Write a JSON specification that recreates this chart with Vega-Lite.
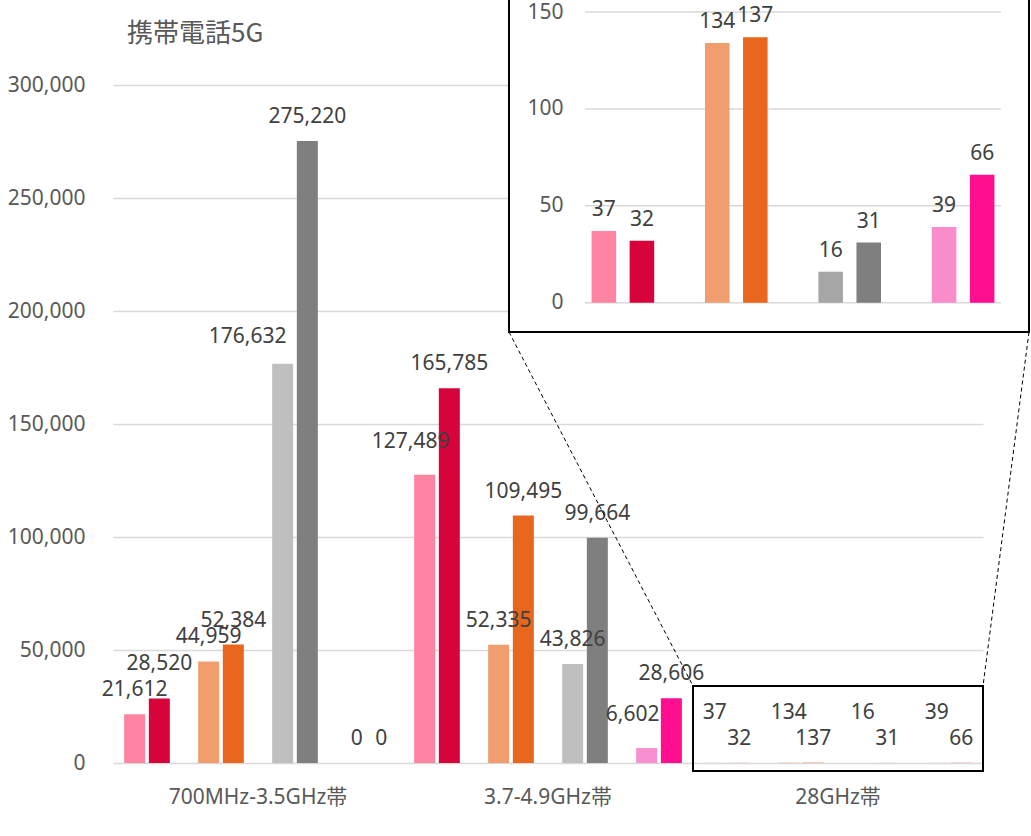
{
  "$schema": "https://vega.github.io/schema/vega-lite/v6.json",
  "autosize": "none",
  "width": 870,
  "height": 678,
  "padding": {"left": 113, "top": 85, "right": 48, "bottom": 73},
  "background": "white",
  "config": {
    "view": {"stroke": null},
    "font": "Noto Sans, Noto Sans CJK JP",
    "text": {"font": "Noto Sans, Noto Sans CJK JP"},
    "axis": {"labelFont": "Noto Sans, Noto Sans CJK JP"}
  },
  "title": {
    "text": "携帯電話5G",
    "anchor": "start",
    "frame": "group",
    "dx": 14,
    "offset": -53,
    "font": "Noto Sans CJK JP",
    "fontSize": 26,
    "fontWeight": "normal",
    "color": "#595959"
  },
  "datasets": {
    "d": [
      {"band": "700MHz-3.5GHz帯", "carrier": "ドコモ", "period": "前回", "series": "ドコモ・前回", "value": 21612},
      {"band": "700MHz-3.5GHz帯", "carrier": "ドコモ", "period": "今回", "series": "ドコモ・今回", "value": 28520},
      {"band": "700MHz-3.5GHz帯", "carrier": "KDDI", "period": "前回", "series": "KDDI・前回", "value": 44959},
      {"band": "700MHz-3.5GHz帯", "carrier": "KDDI", "period": "今回", "series": "KDDI・今回", "value": 52384},
      {"band": "700MHz-3.5GHz帯", "carrier": "ソフトバンク", "period": "前回", "series": "ソフトバンク・前回", "value": 176632},
      {"band": "700MHz-3.5GHz帯", "carrier": "ソフトバンク", "period": "今回", "series": "ソフトバンク・今回", "value": 275220},
      {"band": "700MHz-3.5GHz帯", "carrier": "楽天", "period": "前回", "series": "楽天・前回", "value": 0},
      {"band": "700MHz-3.5GHz帯", "carrier": "楽天", "period": "今回", "series": "楽天・今回", "value": 0},
      {"band": "3.7-4.9GHz帯", "carrier": "ドコモ", "period": "前回", "series": "ドコモ・前回", "value": 127489},
      {"band": "3.7-4.9GHz帯", "carrier": "ドコモ", "period": "今回", "series": "ドコモ・今回", "value": 165785},
      {"band": "3.7-4.9GHz帯", "carrier": "KDDI", "period": "前回", "series": "KDDI・前回", "value": 52335},
      {"band": "3.7-4.9GHz帯", "carrier": "KDDI", "period": "今回", "series": "KDDI・今回", "value": 109495},
      {"band": "3.7-4.9GHz帯", "carrier": "ソフトバンク", "period": "前回", "series": "ソフトバンク・前回", "value": 43826},
      {"band": "3.7-4.9GHz帯", "carrier": "ソフトバンク", "period": "今回", "series": "ソフトバンク・今回", "value": 99664},
      {"band": "3.7-4.9GHz帯", "carrier": "楽天", "period": "前回", "series": "楽天・前回", "value": 6602},
      {"band": "3.7-4.9GHz帯", "carrier": "楽天", "period": "今回", "series": "楽天・今回", "value": 28606},
      {"band": "28GHz帯", "carrier": "ドコモ", "period": "前回", "series": "ドコモ・前回", "value": 37},
      {"band": "28GHz帯", "carrier": "ドコモ", "period": "今回", "series": "ドコモ・今回", "value": 32},
      {"band": "28GHz帯", "carrier": "KDDI", "period": "前回", "series": "KDDI・前回", "value": 134},
      {"band": "28GHz帯", "carrier": "KDDI", "period": "今回", "series": "KDDI・今回", "value": 137},
      {"band": "28GHz帯", "carrier": "ソフトバンク", "period": "前回", "series": "ソフトバンク・前回", "value": 16},
      {"band": "28GHz帯", "carrier": "ソフトバンク", "period": "今回", "series": "ソフトバンク・今回", "value": 31},
      {"band": "28GHz帯", "carrier": "楽天", "period": "前回", "series": "楽天・前回", "value": 39},
      {"band": "28GHz帯", "carrier": "楽天", "period": "今回", "series": "楽天・今回", "value": 66}
    ],
    "ticks": [{"t": 0}, {"t": 50}, {"t": 100}, {"t": 150}]
  },
  "layer": [
    {
      "data": {"name": "d"},
      "encoding": {
        "x": {
          "field": "band", "type": "nominal", "sort": null,
          "scale": {"domain": ["700MHz-3.5GHz帯", "3.7-4.9GHz帯", "28GHz帯"], "paddingInner": 0, "paddingOuter": 0},
          "axis": {"title": null, "labelAngle": 0, "labelFontSize": 21, "labelColor": "#595959", "labelPadding": 23, "ticks": false, "domain": false, "grid": false}
        },
        "xOffset": {
          "field": "series", "type": "nominal",
          "scale": {"domain": ["ドコモ・前回", "ドコモ・今回", "_a", "KDDI・前回", "KDDI・今回", "_b", "ソフトバンク・前回", "ソフトバンク・今回", "_c", "楽天・前回", "楽天・今回"], "paddingInner": 0.149, "paddingOuter": 0.452}
        },
        "y": {
          "field": "value", "type": "quantitative",
          "scale": {"domain": [0, 300000], "nice": false},
          "axis": {"title": null, "values": [0, 50000, 100000, 150000, 200000, 250000, 300000], "labelExpr": "format(datum.value, ',')", "labelFontSize": 21, "labelColor": "#595959", "labelPadding": 28, "ticks": false, "domain": false, "grid": true, "gridColor": "#D9D9D9", "gridWidth": 1.5}
        }
      },
      "layer": [
        {
          "mark": {"type": "bar"},
          "encoding": {
            "color": {
              "field": "series", "type": "nominal", "legend": null,
              "scale": {
                "domain": ["ドコモ・前回", "ドコモ・今回", "KDDI・前回", "KDDI・今回", "ソフトバンク・前回", "ソフトバンク・今回", "楽天・前回", "楽天・今回"],
                "range": ["#FF84A2", "#D6043A", "#F19E6E", "#E9661E", "#BFBFBF", "#7F7F7F", "#F98ED0", "#FF0F8F"]
              }
            }
          }
        },
        {
          "transform": [{"filter": "!((datum.band === '28GHz帯' && datum.period === '前回') || (datum.band === '700MHz-3.5GHz帯' && (datum.series === 'ドコモ・今回' || datum.series === 'ソフトバンク・前回')) || (datum.band === '3.7-4.9GHz帯' && (datum.series === 'ドコモ・前回' || datum.series === '楽天・前回')))"}],
          "mark": {"type": "text", "baseline": "middle", "dy": -24, "fontSize": 21, "color": "#404040"},
          "encoding": {"text": {"field": "value", "type": "quantitative", "format": ","}}
        },
        {
          "transform": [{"filter": "datum.band === '28GHz帯' && datum.period === '前回'"}],
          "mark": {"type": "text", "baseline": "middle", "dy": -50, "fontSize": 21, "color": "#404040"},
          "encoding": {"text": {"field": "value", "type": "quantitative", "format": ","}}
        },
        {
          "transform": [{"filter": "datum.band === '700MHz-3.5GHz帯' && datum.series === 'ドコモ・今回'"}],
          "mark": {"type": "text", "baseline": "middle", "dy": -35, "fontSize": 21, "color": "#404040"},
          "encoding": {"text": {"field": "value", "type": "quantitative", "format": ","}}
        },
        {
          "transform": [{"filter": "datum.band === '700MHz-3.5GHz帯' && datum.series === 'ソフトバンク・前回'"}],
          "mark": {"type": "text", "baseline": "middle", "dx": -35, "dy": -27, "fontSize": 21, "color": "#404040"},
          "encoding": {"text": {"field": "value", "type": "quantitative", "format": ","}}
        },
        {
          "transform": [{"filter": "datum.band === '3.7-4.9GHz帯' && (datum.series === 'ドコモ・前回' || datum.series === '楽天・前回')"}],
          "mark": {"type": "text", "baseline": "middle", "dx": -14, "dy": -33, "fontSize": 21, "color": "#404040"},
          "encoding": {"text": {"field": "value", "type": "quantitative", "format": ","}}
        }
      ]
    },
    {
      "data": {"values": [{}]},
      "layer": [
        {
          "mark": {"type": "rect", "fillOpacity": 0, "stroke": "#000000", "strokeWidth": 2},
          "encoding": {
            "x": {"datum": 2, "type": "quantitative", "scale": {"domain": [0, 3], "nice": false, "zero": false}, "axis": null},
            "x2": {"datum": 3},
            "y": {"datum": 34071, "type": "quantitative", "scale": {"domain": [0, 300000], "nice": false}, "axis": null},
            "y2": {"datum": -3540}
          }
        },
        {
          "mark": {"type": "rect", "fill": "#FFFFFF", "stroke": "#000000", "strokeWidth": 2},
          "encoding": {
            "x": {"datum": 1.3655, "type": "quantitative", "scale": {"domain": [0, 3], "nice": false, "zero": false}, "axis": null},
            "x2": {"datum": 3.1586},
            "y": {"datum": 190708, "type": "quantitative", "scale": {"domain": [0, 300000], "nice": false}, "axis": null},
            "y2": {"datum": 340000}
          }
        },
        {
          "mark": {"type": "rule", "stroke": "#000000", "strokeWidth": 1, "strokeDash": [4, 3]},
          "encoding": {
            "x": {"datum": 1.3655, "type": "quantitative", "scale": {"domain": [0, 3], "nice": false, "zero": false}, "axis": null},
            "x2": {"datum": 2},
            "y": {"datum": 190708, "type": "quantitative", "scale": {"domain": [0, 300000], "nice": false}, "axis": null},
            "y2": {"datum": 34071}
          }
        },
        {
          "mark": {"type": "rule", "stroke": "#000000", "strokeWidth": 1, "strokeDash": [4, 3]},
          "encoding": {
            "x": {"datum": 3.1586, "type": "quantitative", "scale": {"domain": [0, 3], "nice": false, "zero": false}, "axis": null},
            "x2": {"datum": 3},
            "y": {"datum": 190708, "type": "quantitative", "scale": {"domain": [0, 300000], "nice": false}, "axis": null},
            "y2": {"datum": 34071}
          }
        }
      ]
    },
    {
      "data": {"name": "ticks"},
      "mark": {"type": "rule", "stroke": "#D9D9D9", "strokeWidth": 1.5},
      "encoding": {
        "x": {"datum": 0, "type": "quantitative", "scale": {"domain": [0, 1], "range": [472, 888], "nice": false, "zero": false}, "axis": null},
        "x2": {"datum": 1},
        "y": {
          "field": "t", "type": "quantitative",
          "scale": {"domain": [0, 150], "range": [217.7, -73], "nice": false},
          "axis": {"orient": "left", "offset": -450, "title": null, "values": [0, 50, 100, 150], "labelFontSize": 21, "labelColor": "#595959", "labelPadding": 0, "ticks": false, "domain": false, "grid": false, "zindex": 1}
        }
      }
    },
    {
      "data": {"name": "d"},
      "transform": [{"filter": "datum.band === '28GHz帯'"}],
      "encoding": {
        "x": {
          "field": "carrier", "type": "nominal", "sort": null,
          "scale": {"domain": ["ドコモ", "KDDI", "ソフトバンク", "楽天"], "range": [472, 888], "paddingInner": 0.448, "paddingOuter": 0.058},
          "axis": null
        },
        "xOffset": {
          "field": "period", "type": "nominal",
          "scale": {"domain": ["前回", "今回"], "paddingInner": 0.355, "paddingOuter": 0}
        },
        "y": {
          "field": "value", "type": "quantitative",
          "scale": {"domain": [0, 150], "range": [217.7, -73], "nice": false},
          "axis": null
        }
      },
      "layer": [
        {
          "mark": {"type": "bar"},
          "encoding": {
            "color": {
              "field": "series", "type": "nominal", "legend": null,
              "scale": {
                "domain": ["ドコモ・前回", "ドコモ・今回", "KDDI・前回", "KDDI・今回", "ソフトバンク・前回", "ソフトバンク・今回", "楽天・前回", "楽天・今回"],
                "range": ["#FF84A2", "#D6043A", "#F19E6E", "#E9661E", "#A6A6A6", "#7F7F7F", "#F98DCB", "#FF0F8F"]
              }
            }
          }
        },
        {
          "mark": {"type": "text", "baseline": "middle", "dy": -21, "fontSize": 21, "color": "#404040"},
          "encoding": {"text": {"field": "value", "type": "quantitative", "format": ","}}
        }
      ]
    }
  ],
  "resolve": {"scale": {"x": "independent", "y": "independent", "xOffset": "independent", "color": "independent"}}
}
